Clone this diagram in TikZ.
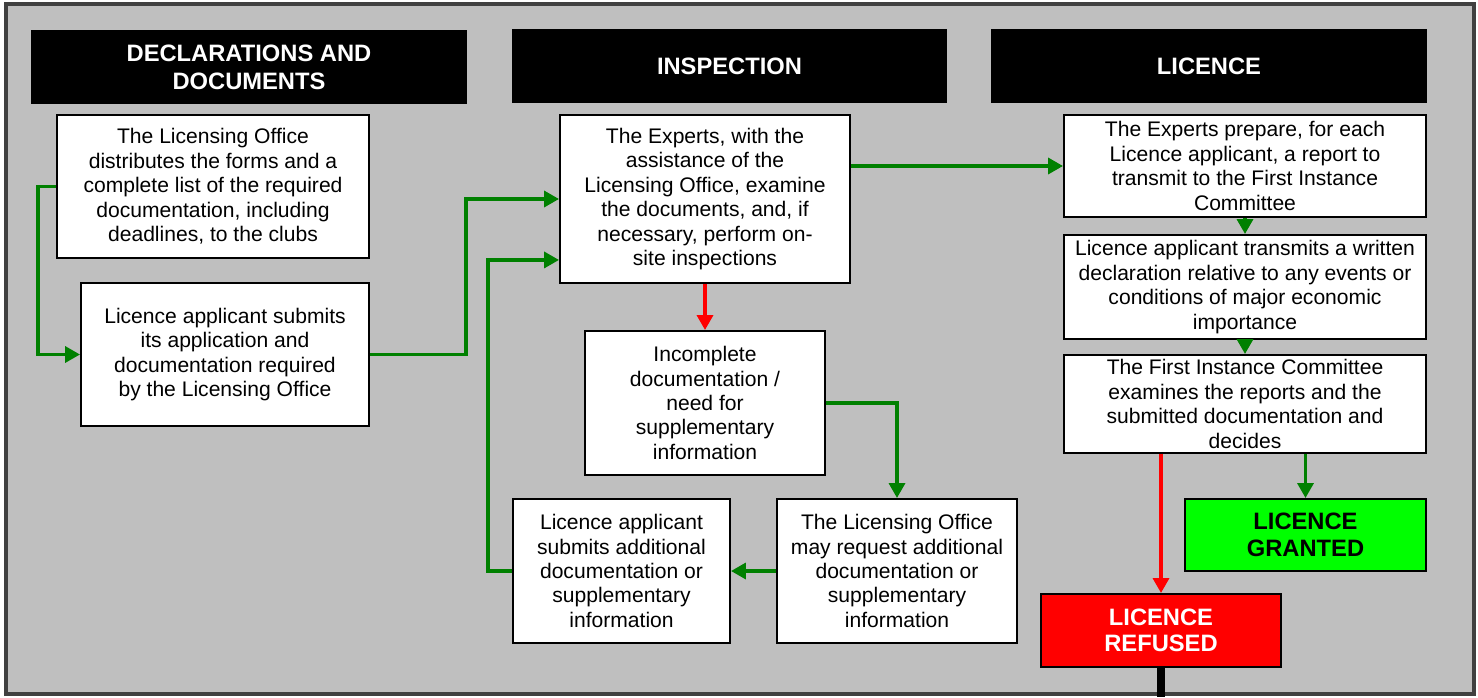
\documentclass[tikz,border=0pt]{standalone}
\usepackage{fontspec}
\setmainfont{Liberation Sans}
\usetikzlibrary{arrows.meta}
\usepackage{xcolor}
\definecolor{bggray}{RGB}{191,191,191}
\definecolor{framegray}{RGB}{64,64,64}
\definecolor{okgreen}{RGB}{0,128,0}

\begin{document}
\begin{tikzpicture}[x=0.02cm,y=-0.02cm,
  head/.style={fill=black,text=white,inner sep=0pt,align=center,
               minimum width=8.72cm,minimum height=1.48cm,
               font=\fontsize{13.5}{16}\selectfont\bfseries},
  box/.style={draw,fill=white,line width=1.1pt,inner sep=0pt,align=center,
              font=\fontsize{12}{13.9}\selectfont},
  verdict/.style={draw,line width=1.1pt,inner sep=0pt,align=center,
                  font=\fontsize{13.5}{15}\selectfont\bfseries},
  okarr/.style={-{Triangle[length=8.5pt,width=9pt]},okgreen,line width=2.1pt},
  noarr/.style={-{Triangle[length=8.5pt,width=9pt]},red,line width=2.1pt}
]
\useasboundingbox (0,0) rectangle (1478,697);
\draw[framegray,fill=bggray,line width=2.3pt] (6,4) rectangle (1474,694);

% column headers
\node[head] (hdecl) at (249,67)    {DECLARATIONS AND\\DOCUMENTS};
\node[head] (hinsp) at (729.5,66)  {INSPECTION};
\node[head] (hlic)  at (1209,66)   {LICENCE};

% declarations and documents
\node[box,minimum width=6.24cm,minimum height=2.86cm] (forms) at (213,186.5)
  {The Licensing Office\\distributes the forms and a\\complete list of the required\\documentation, including\\deadlines, to the clubs};
\node[box,minimum width=5.76cm,minimum height=2.86cm] (submit) at (225,354.5)
  {Licence applicant submits\\its application and\\documentation required\\by the Licensing Office};

% inspection
\node[box,minimum width=5.8cm,minimum height=3.36cm] (exam) at (705,199)
  {The Experts, with the\\assistance of the\\Licensing Office, examine\\the documents, and, if\\necessary, perform on-\\site inspections};
\node[box,minimum width=4.8cm,minimum height=2.88cm] (incomp) at (705,403)
  {Incomplete\\documentation /\\need for\\supplementary\\information};
\node[box,minimum width=4.8cm,minimum height=2.88cm] (request) at (897,571)
  {The Licensing Office\\may request additional\\documentation or\\supplementary\\information};
\node[box,minimum width=4.34cm,minimum height=2.88cm] (extra) at (621.5,571)
  {Licence applicant\\submits additional\\documentation or\\supplementary\\information};

% licence
\node[box,minimum width=7.24cm,minimum height=2.04cm] (report) at (1245,166)
  {The Experts prepare, for each\\Licence applicant, a report to\\transmit to the First Instance\\Committee};
\node[box,minimum width=7.24cm,minimum height=2.08cm] (declar) at (1245,287)
  {Licence applicant transmits a written\\declaration relative to any events or\\conditions of major economic\\importance};
\node[box,minimum width=7.24cm,minimum height=1.96cm] (decide) at (1245,404)
  {The First Instance Committee\\examines the reports and the\\submitted documentation and\\decides};
\node[verdict,fill=red,text=white,minimum width=4.8cm,minimum height=1.46cm] (refused) at (1161,630.5)
  {LICENCE\\REFUSED};
\node[verdict,fill=green,text=black,minimum width=4.82cm,minimum height=1.44cm] (granted) at (1305.5,535)
  {LICENCE\\GRANTED};
\coordinate (out) at (1161,697);

\draw[okarr] (forms.west) -- ++(-18,0) |- (submit.west);
\draw[okarr] (submit.east) -- ++(96,0) |- (exam.west);
\draw[noarr] (exam.south) -- (incomp.north);
\draw[okarr] (incomp.east) -| (request.north);
\draw[okarr] (request.west) -- (extra.east);
\draw[okarr] (extra.west) -- ++(-24,0) |- ([yshift=0.48cm]exam.south west);
\draw[okarr] (exam.east |- report.west) -- (report.west);
\draw[okarr] (report.south) -- (declar.north);
\draw[okarr] (declar.south) -- (decide.north);
\draw[noarr] (refused.north |- decide.south) -- (refused.north);
\draw[okarr] (granted.north |- decide.south) -- (granted.north);
\draw[line width=4.5pt] (refused.south) -- (out);
\end{tikzpicture}
\end{document}
